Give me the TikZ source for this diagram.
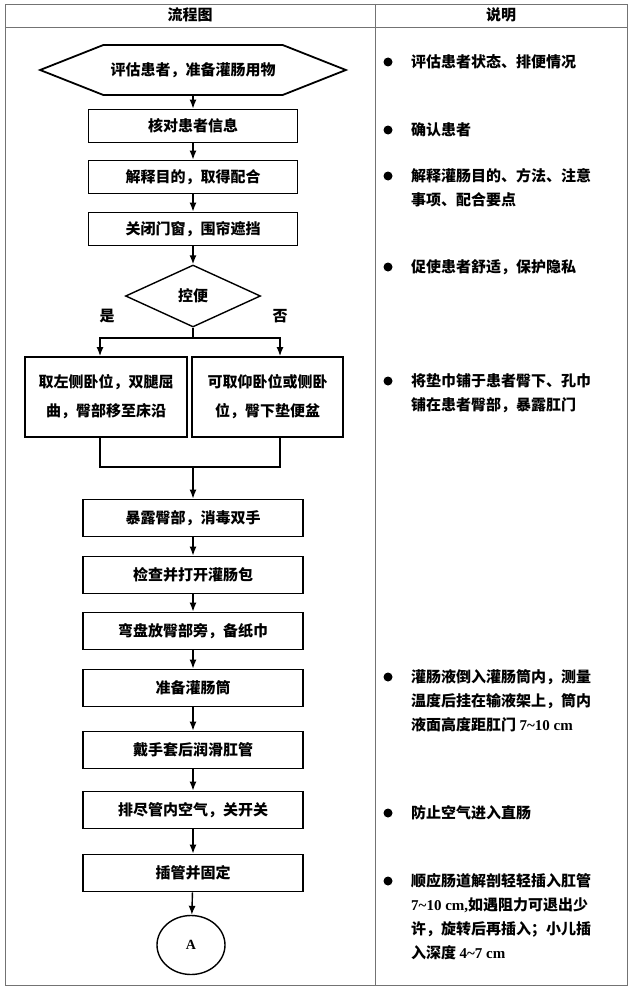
\documentclass[tikz,border=0pt]{standalone}
\usepackage{fontspec}
\setmainfont{Liberation Serif}
\newfontfamily\cjk{Noto Sans CJK SC}
\usepackage{xcolor}
\usetikzlibrary{arrows.meta}
\usetikzlibrary{shapes.geometric}
\usetikzlibrary{calc, math, positioning}

\begin{document}
\begin{tikzpicture}[x=1pt, y=-1pt,
  flowbox/.style={draw, line width=1.8pt, minimum width=209, minimum height=33,
    inner sep=0pt, align=center, font=\cjk\bfseries\fontsize{15}{29}\selectfont},
  widebox/.style={flowbox, minimum width=220, minimum height=37},
  flow/.style={-{Latex[length=9pt, width=7pt]}, line width=1.4pt},
  grid/.style={draw=black!55, line width=0.9pt},
  note/.style={anchor=west, align=left, inner sep=0pt,
    font=\cjk\bfseries\fontsize{15}{24}\selectfont},
  dot/.style={circle, fill, inner sep=0pt, minimum size=9},
]
\tikzmath{
\cx=193;
\bx=388;
\tx=411;
}
\useasboundingbox (0,0) rectangle (634,998);

 %table:
 \draw[grid] (5,4) rectangle (627,985);
 \draw[grid] (5,27) -- (627,27);
 \draw[grid] (375,4) -- (375,985);
 \node[font=\cjk\bfseries\fontsize{15}{18}\selectfont] (hflow) at (190,15) {流程图};
 \node[font=\cjk\bfseries\fontsize{15}{18}\selectfont] (hnote) at (501,15) {说明};

 %flow chart:
 \node[flowbox, draw=none, minimum width=304, minimum height=48] (prep) at (\cx,70) {评估患者，准备灌肠用物};
 \draw[line width=1.8pt] (prep.west) -- ($(prep.north west)+(63,0)$) -- ($(prep.north east)+(-63,0)$)
   -- (prep.east) -- ($(prep.south east)+(-63,0)$) -- ($(prep.south west)+(63,0)$) -- cycle;

 \node[flowbox] (check) at (\cx,126) {核对患者信息};
 \node[flowbox] (explain) at (\cx,177) {解释目的，取得配合};
 \node[flowbox] (screen) at (\cx,229) {关闭门窗，围帘遮挡};
 \node[flowbox, shape=diamond, minimum width=135, minimum height=62, aspect=2.2,
   line width=1.4pt] (decide) at (\cx,296) {控便};
 \node[font=\cjk\bfseries\fontsize{15}{18}\selectfont] (yes) at (107,316) {是};
 \node[font=\cjk\bfseries\fontsize{15}{18}\selectfont] (no) at (280,316) {否};

 \node[flowbox, minimum width=162, minimum height=80] (lpose) at (106,397) {取左侧卧位，双腿屈\\曲，臀部移至床沿};
 \node[flowbox, minimum width=151, minimum height=80] (rpose) at (267.5,397) {可取仰卧位或侧卧\\位，臀下垫便盆};

 \node[widebox] (expose) at (\cx,518) {暴露臀部，消毒双手};
 \node[widebox] (openpack) at (\cx,575) {检查并打开灌肠包};
 \node[widebox] (basin) at (\cx,631) {弯盘放臀部旁，备纸巾};
 \node[widebox] (bag) at (\cx,688) {准备灌肠筒};
 \node[widebox] (glove) at (\cx,750) {戴手套后润滑肛管};
 \node[widebox] (purge) at (\cx,810) {排尽管内空气，关开关};
 \node[widebox] (insert) at (\cx,873) {插管并固定};
 \node[draw, ellipse, line width=1.4pt, minimum width=68, minimum height=59, inner sep=0pt,
   font=\bfseries\fontsize{14}{16}\selectfont] (link) at (191,945) {A};

 %branches:
 \coordinate (jl) at (100,338);
 \coordinate (jr) at (280,338);
 \coordinate (ml) at (100,467);
 \coordinate (mr) at (280,467);

 \draw[flow] (prep) -- (check);
 \draw[flow] (check) -- (explain);
 \draw[flow] (explain) -- (screen);
 \draw[flow] (screen) -- (decide);
 \draw[line width=1.4pt] (decide.south) -- (decide.south |- jl);
 \draw[flow] (decide.south |- jl) -- (jl) -- (jl |- lpose.north);
 \draw[flow] (decide.south |- jr) -- (jr) -- (jr |- rpose.north);
 \draw[line width=1.4pt] (ml |- lpose.south) -- (ml) -- (mr) -- (mr |- rpose.south);
 \draw[flow] (expose.north |- ml) -- (expose);
 \draw[flow] (expose) -- (openpack);
 \draw[flow] (openpack) -- (basin);
 \draw[flow] (basin) -- (bag);
 \draw[flow] (bag) -- (glove);
 \draw[flow] (glove) -- (purge);
 \draw[flow] (purge) -- (insert);
 \draw[flow] (insert) -- (link);

 %notes:
 \node[dot] (d1) at (\bx,62) {};
 \node[note] (n1) at (\tx,62) {评估患者状态、排便情况};
 \node[dot] (d2) at (\bx,130) {};
 \node[note] (n2) at (\tx,130) {确认患者};
 \node[dot] (d3) at (\bx,176) {};
 \node[note] (n3) at (\tx,188) {解释灌肠目的、方法、注意\\事项、配合要点};
 \node[dot] (d4) at (\bx,267) {};
 \node[note] (n4) at (\tx,267) {促使患者舒适，保护隐私};
 \node[dot] (d5) at (\bx,381) {};
 \node[note] (n5) at (\tx,393) {将垫巾铺于患者臀下、孔巾\\铺在患者臀部，暴露肛门};
 \node[dot] (d6) at (\bx,677) {};
 \node[note] (n6) at (\tx,701) {灌肠液倒入灌肠筒内，测量\\温度后挂在输液架上，筒内\\液面高度距肛门 {\rmfamily 7\textasciitilde10 cm}};
 \node[dot] (d7) at (\bx,813) {};
 \node[note] (n7) at (\tx,813) {防止空气进入直肠};
 \node[dot] (d8) at (\bx,881) {};
 \node[note] (n8) at (\tx,917) {顺应肠道解剖轻轻插入肛管\\{\rmfamily 7\textasciitilde10 cm,}如遇阻力可退出少\\许，旋转后再插入；小儿插\\入深度 {\rmfamily 4\textasciitilde7 cm}};

\end{tikzpicture}
\end{document}
